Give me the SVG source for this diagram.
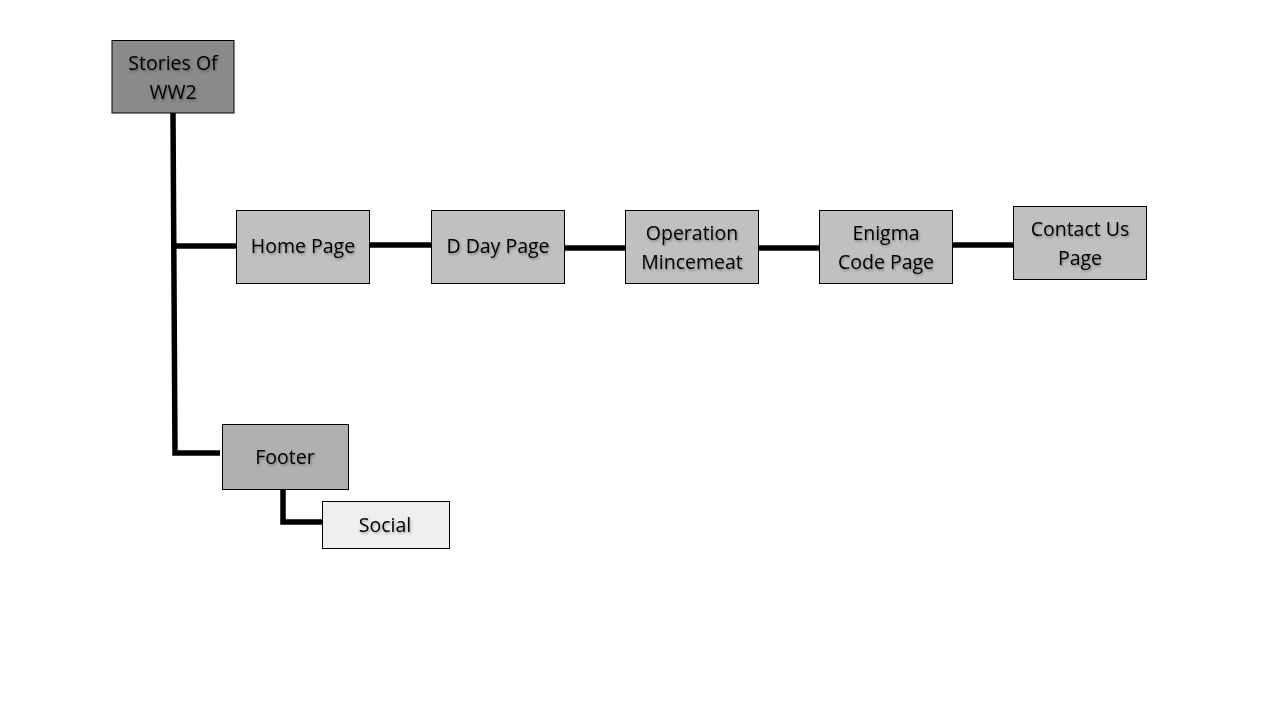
<svg xmlns="http://www.w3.org/2000/svg" width="1280" height="720" viewBox="0 0 1280 720">
<defs>
<filter id="sh" x="-10%" y="-10%" width="120%" height="130%">
<feDropShadow dx="1" dy="1.5" stdDeviation="0.8" flood-color="#000" flood-opacity="0.35"/>
</filter>
</defs>
<style>
.box{stroke:#000;stroke-width:1}
.t{font-family:"Open Sans","Liberation Sans",sans-serif;font-size:19.5px;fill:#000;text-anchor:middle;dominant-baseline:central;filter:url(#sh)}
.c{stroke:#000;stroke-width:5.5;fill:none}
</style>
<rect width="1280" height="720" fill="#fff"/>
<g id="connectors">
<path class="c" d="M173,113 L175,453 L220,453"/>
<path class="c" d="M174,246 L236,246"/>
<path class="c" d="M369,245 L431,245"/>
<path class="c" d="M564,248 L625,248"/>
<path class="c" d="M758,248 L819,248"/>
<path class="c" d="M952,245 L1013,245"/>
<path class="c" d="M283,489 L283,522 L322,522"/>
</g>
<g id="stories">
<rect class="box" x="112" y="40.5" width="122" height="72.5" fill="#8a8a8a"/>
<text class="t" x="173" y="62">Stories Of</text>
<text class="t" x="173" y="91">WW2</text>
</g>
<g id="home">
<rect class="box" x="236.5" y="210.5" width="133" height="73" fill="#c0c0c0"/>
<text class="t" x="303" y="245">Home Page</text>
</g>
<g id="dday">
<rect class="box" x="431.5" y="210.5" width="133" height="73" fill="#c0c0c0"/>
<text class="t" x="498" y="245">D Day Page</text>
</g>
<g id="mincemeat">
<rect class="box" x="625.5" y="210.5" width="133" height="73" fill="#c0c0c0"/>
<text class="t" x="692" y="232">Operation</text>
<text class="t" x="692" y="261">Mincemeat</text>
</g>
<g id="enigma">
<rect class="box" x="819.5" y="210.5" width="133" height="73" fill="#c0c0c0"/>
<text class="t" x="886" y="232">Enigma</text>
<text class="t" x="886" y="261">Code Page</text>
</g>
<g id="contact">
<rect class="box" x="1013.5" y="206.5" width="133" height="73" fill="#c0c0c0"/>
<text class="t" x="1080" y="228">Contact Us</text>
<text class="t" x="1080" y="257">Page</text>
</g>
<g id="footer">
<rect class="box" x="222.5" y="424.5" width="126" height="65" fill="#b0b0b0"/>
<text class="t" x="285" y="456">Footer</text>
</g>
<g id="social">
<rect class="box" x="322.5" y="501.5" width="127" height="47" fill="#efefef"/>
<text class="t" x="385" y="524">Social</text>
</g>
</svg>
